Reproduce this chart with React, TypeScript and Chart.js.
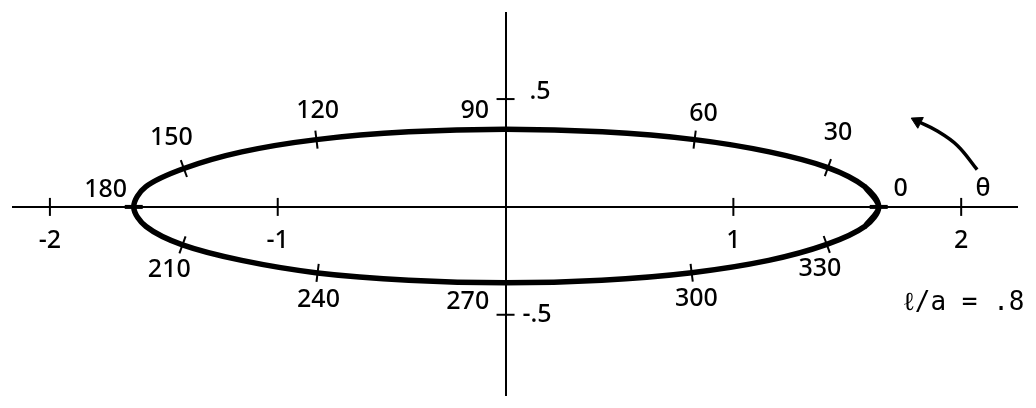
import React, { useEffect, useRef } from 'react';
import { Chart, registerables } from 'chart.js';

Chart.register(...registerables);

// ---------------- data ----------------
const thetaDeg = [0, 15, 30, 45, 60, 75, 90, 105, 120, 135, 150, 165, 180, 195, 210, 225, 240, 255, 270, 285, 300, 315, 330, 345];
const curveX = [1.638, 1.578, 1.415, 1.158, 0.83, 0.425, 0, -0.425, -0.83, -1.158, -1.412, -1.58, -1.632, -1.578, -1.418, -1.158, -0.825, -0.425, 0, 0.422, 0.817, 1.155, 1.41, 1.578];
const curveY = [0, 0.093, 0.182, 0.255, 0.312, 0.348, 0.36, 0.348, 0.312, 0.255, 0.178, 0.093, 0, -0.091, -0.176, -0.248, -0.306, -0.34, -0.352, -0.34, -0.305, -0.248, -0.174, -0.09];
const markedTheta = [0, 30, 60, 120, 150, 180, 210, 240, 300, 330];
const thetaLabels = ['0', '30', '60', '90', '120', '150', '180', '210', '240', '270', '300', '330'];
const xTickValues = [-2, -1, 1, 2];
const yTickValues = [0.5, -0.5];
const yTickLabels = ['.5', '-.5'];
const arrowX = [2.07, 1.983, 1.895, 1.808];
const arrowY = [0.173, 0.285, 0.352, 0.397];
const thetaSymbol = 'θ';
const ratioLabel = 'ℓ/a = .8';

// ---------------- annotation placement (data coordinates) ----------------
const thetaLabelX = [1.734, 1.459, 0.869, -0.135, -0.825, -1.467, -1.755, -1.476, -0.821, -0.166, 0.838, 1.38];
const thetaLabelY = [0.092, 0.352, 0.442, 0.455, 0.455, 0.33, 0.087, -0.285, -0.424, -0.433, -0.419, -0.28];
const thetaSymbolAt = { x: 2.096, y: 0.092 };
const yTickLabelAt = [{ x: 0.105, y: 0.54 }, { x: 0.074, y: -0.491 }];
const ratioLabelAt = { x: 1.742, y: -0.437 };

// ---------------- styles ----------------
const markRotation: Record<number, number> = { 0: 0, 30: 110, 60: 97, 120: 83, 150: 70, 180: 0, 210: 110, 240: 97, 300: 83, 330: 70 };
const FONT = '"Noto Sans", sans-serif';

const textPlugin = {
  id: 'annotText',
  afterDatasetsDraw(chart: any) {
    const { ctx, scales } = chart;
    const sx = scales.x;
    const sy = scales.y;
    ctx.save();
    ctx.fillStyle = '#000';
    ctx.font = `500 25px ${FONT}`;
    ctx.textBaseline = 'alphabetic';
    ctx.textAlign = 'center';
    thetaLabels.forEach((t, i) => {
      ctx.fillText(t, sx.getPixelForValue(thetaLabelX[i]), sy.getPixelForValue(thetaLabelY[i]) + 9);
    });
    ctx.fillText(thetaSymbol, sx.getPixelForValue(thetaSymbolAt.x), sy.getPixelForValue(thetaSymbolAt.y) + 9);
    ctx.textAlign = 'left';
    yTickLabels.forEach((t, i) => {
      ctx.fillText(t, sx.getPixelForValue(yTickLabelAt[i].x), sy.getPixelForValue(yTickLabelAt[i].y) + 9);
    });
    ctx.font = `26px "DejaVu Sans Mono", monospace`;
    ctx.fillText(ratioLabel, sx.getPixelForValue(ratioLabelAt.x), sy.getPixelForValue(ratioLabelAt.y) + 9);
    ctx.restore();
  },
};

export default function App() {
  const ref = useRef<HTMLCanvasElement>(null);

  useEffect(() => {
    const canvas = ref.current;
    if (!canvas) return;

    const pts = thetaDeg.map((_, i) => ({ x: curveX[i], y: curveY[i] }));
    const n = pts.length;
    const loop = [pts[n - 1], ...pts, pts[0], pts[1]];
    const marks = markedTheta.map((t) => {
      const i = thetaDeg.indexOf(t);
      return { x: curveX[i], y: curveY[i] };
    });
    const axisMarks = [
      ...xTickValues.map((v) => ({ x: v, y: 0 })),
      ...yTickValues.map((v) => ({ x: 0, y: v })),
    ];
    const arrowPts = arrowX.map((x, i) => ({ x, y: arrowY[i] }));

    const chart = new Chart(canvas, {
      type: 'scatter',
      data: {
        datasets: [
          {
            data: loop,
            showLine: true,
            borderColor: '#000',
            borderWidth: 5.5,
            tension: 0.33,
            borderJoinStyle: 'round',
            borderCapStyle: 'round',
            pointRadius: 0,
            fill: false,
          },
          {
            data: marks,
            showLine: false,
            pointStyle: 'line',
            pointRadius: 9,
            borderColor: '#000',
            pointBorderWidth: (c: any) => (markedTheta[c.dataIndex] % 180 === 0 ? 4 : 2),
            rotation: (c: any) => markRotation[markedTheta[c.dataIndex]] ?? 0,
          } as any,
          {
            data: axisMarks,
            showLine: false,
            pointStyle: 'line',
            pointRadius: 9,
            borderColor: '#000',
            pointBorderWidth: 2,
            rotation: (c: any) => (c.dataIndex < xTickValues.length ? 90 : 0),
          } as any,
          {
            data: arrowPts,
            showLine: true,
            borderColor: '#000',
            borderWidth: 3.5,
            tension: 0.4,
            pointRadius: 0,
          },
          {
            data: [arrowPts[arrowPts.length - 1]],
            showLine: false,
            pointStyle: 'triangle',
            pointRadius: 7,
            backgroundColor: '#000',
            borderColor: '#000',
            borderWidth: 1,
            rotation: -63,
          } as any,
        ],
      },
      options: {
        animation: false,
        responsive: true,
        maintainAspectRatio: false,
        layout: { padding: { left: 8, right: 19, top: 13, bottom: 0 } },
        plugins: { legend: { display: false }, tooltip: { enabled: false } },
        events: [],
        scales: {
          x: {
            type: 'linear',
            position: { y: 0 } as any,
            min: -2.162,
            max: 2.245,
            afterFit: (s: any) => { s.height = 0; },
            afterBuildTicks: (s: any) => { s.ticks = xTickValues.map((v) => ({ value: v })); },
            grid: { display: true, drawOnChartArea: false, drawTicks: false },
            border: { display: true, color: '#000', width: 2 },
            ticks: {
              autoSkip: false,
              maxRotation: 0,
              padding: 19,
              color: '#000',
              font: { family: FONT, size: 25, weight: '500' },
              callback: (v: any) => String(v),
            },
          },
          y: {
            type: 'linear',
            position: { x: 0 } as any,
            min: -0.872,
            max: 0.899,
            afterFit: (s: any) => { s.width = 0; },
            grid: { display: true, drawOnChartArea: false, drawTicks: false },
            border: { display: true, color: '#000', width: 2 },
            ticks: { display: false },
          },
        },
      },
      plugins: [textPlugin],
    } as any);

    return () => chart.destroy();
  }, []);

  return (
    <div style={{ position: 'absolute', left: 0, top: 0, width: 1036, height: 408, background: '#fff' }}>
      <canvas ref={ref} />
    </div>
  );
}
